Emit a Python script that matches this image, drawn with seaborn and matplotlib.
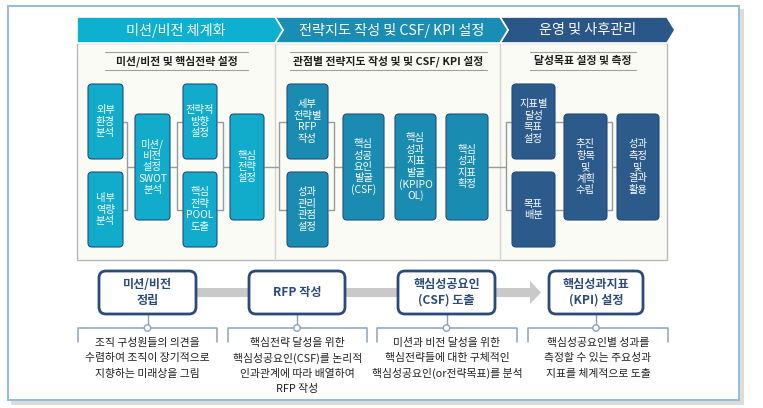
import matplotlib
matplotlib.use("Agg")
import matplotlib.pyplot as plt
import seaborn as sns
from matplotlib.patches import FancyBboxPatch, Polygon, Rectangle, Circle

sns.set_theme(style="white")
plt.rcParams['font.family'] = ['Noto Sans CJK KR', 'DejaVu Sans']

# 단계 / 내용
phases = ["미션/비전 체계화", "전략지도 작성 및 CSF/ KPI 설정", "운영 및 사후관리"]
sub_titles = ["미션/비전 및 핵심전략 설정",
              "관점별 전략지도 작성 및 및 CSF/ KPI 설정",
              "달성목표 설정 및 측정"]
phase_colors = ["#0db1cf", "#1a8db4", "#2a5788"]
box_colors = ["#11abcc", "#1b8cb1", "#2b5a8b"]

steps1 = ["외부\n환경\n분석", "내부\n역량\n분석", "미션/\n비전\n설정\nSWOT\n분석",
          "전략적\n방향\n설정", "핵심\n전략\nPOOL\n도출", "핵심\n전략\n설정"]
steps2 = ["세부\n전략별\nRFP\n작성", "성과\n관리\n관점\n설정", "핵심\n성공\n요인\n발굴\n(CSF)",
          "핵심\n성과\n지표\n발굴\n(KPIPO\nOL)", "핵심\n성과\n지표\n확정"]
steps3 = ["지표별\n달성\n목표\n설정", "목표\n배분", "추진\n항목\n및\n계획\n수립",
          "성과\n측정\n및\n결과\n활용"]

stages = ["미션/비전\n정립", "RFP 작성", "핵심성공요인\n(CSF) 도출", "핵심성과지표\n(KPI) 설정"]
stage_notes = [
    ["조직 구성원들의 의견을", "수렴하여 조직이 장기적으로", "지향하는 미래상을 그림"],
    ["핵심전략 달성을 위한", "핵심성공요인(CSF)를 논리적", "인과관계에 따라 배열하여", "RFP 작성"],
    ["미션과 비전 달성을 위한", "핵심전략들에 대한 구체적인", "핵심성공요인(or전략목표)를 분석"],
    ["핵심성공요인별 성과를", "측정할 수 있는 주요성과", "지표를 체계적으로 도출"],
]

# layout (pixels)
TOP, BOT, MID = (84, 159), (172, 247), (114, 220)
layout1 = [((88, 123), TOP), ((88, 123), BOT), ((135, 170), MID),
           ((183, 217), TOP), ((183, 217), BOT), ((230, 264), MID)]
layout2 = [((287, 328), TOP), ((287, 328), BOT), ((343, 384), MID),
           ((395, 436), MID), ((446, 488), MID)]
layout3 = [((512, 555), TOP), ((512, 555), BOT), ((564, 607), MID), ((617, 659), MID)]
stage_x = [(99, 196), (249, 345), (398, 495), (549, 643)]
note_x = [(78, 217), (228, 367), (377, 517), (528, 668)]

fig = plt.figure(figsize=(7.63, 4.08), dpi=100)
ax = fig.add_axes([0, 0, 1, 1])
ax.set_xlim(0, 763)
ax.set_ylim(408, 0)
ax.axis("off")


def lines_text(cx, cy, text, step, **kw):
    # place each line by hand, CJK multi-line spacing in mpl is too tight
    parts = text.split("\n")
    y0 = cy - step * (len(parts) - 1) / 2
    for i, p in enumerate(parts):
        ax.text(cx, y0 + i * step, p, ha="center", va="center", **kw)


# outer frame + shadow
ax.add_patch(Rectangle((11, 9), 733, 396, facecolor="#dcdcdc", edgecolor="none", zorder=0))
ax.add_patch(Rectangle((8, 6), 731, 394, facecolor="white", edgecolor="#93bddc", lw=1.4, zorder=1))

# panel
ax.add_patch(Rectangle((77, 43), 590, 217, facecolor="#fbfbf6", edgecolor="#b8b8b8", lw=1, zorder=2))
for xd in (275, 500):
    ax.plot([xd, xd], [43, 260], color="#d4d4d4", lw=1, zorder=2)

# header chevrons
hy0, hy1, hm = 17, 43, 30
heads = [
    [(77, hy0), (275, hy0), (283, hm), (275, hy1), (77, hy1)],
    [(275, hy0), (500, hy0), (508, hm), (500, hy1), (275, hy1), (283, hm)],
    [(500, hy0), (667, hy0), (675, hm), (667, hy1), (500, hy1), (508, hm)],
]
for pts, c in zip(heads[::-1], phase_colors[::-1]):
    ax.add_patch(Polygon(pts, closed=True, facecolor=c, edgecolor="white", lw=1.2, zorder=3))
for (x0, x1), t in zip([(77, 275), (283, 500), (508, 667)], phases):
    ax.text((x0 + x1) / 2, hm, t, color="white", fontsize=10.2, fontweight="medium",
            ha="center", va="center", zorder=4)

# subtitles
for (x0, x1), t in zip([(105, 248), (290, 487), (530, 636)], sub_titles):
    ax.plot([x0, x1], [52, 52], color="#a0a0a0", lw=0.8, zorder=3)
    ax.plot([x0, x1], [70, 70], color="#a0a0a0", lw=0.8, zorder=3)
    ax.text((x0 + x1) / 2, 61, t, color="#1e1e1e", fontsize=7.8, fontweight="bold",
            ha="center", va="center", zorder=4)

# connectors
line_c = "#9a9a9a"
def seg(xs, ys):
    ax.plot(xs, ys, color=line_c, lw=1, zorder=3, solid_capstyle="butt")

yt, yb, ym = sum(TOP) / 2, sum(BOT) / 2, sum(MID) / 2
def bracket(xl, xb, xr):
    seg([xl, xb, xb, xl], [yt, yt, yb, yb])
    seg([xb, xr], [ym, ym])
def rbracket(xl, xb, xr):
    seg([xl, xb], [ym, ym])
    seg([xr, xb, xb, xr], [yt, yt, yb, yb])

bracket(123, 127, 135)
rbracket(170, 177, 183)
bracket(217, 223, 230)
rbracket(264, 279, 287)
bracket(328, 334, 343)
seg([384, 395], [ym, ym])
seg([436, 446], [ym, ym])
rbracket(488, 506, 512)
seg([555, 564], [yt, yt])
seg([555, 564], [yb, yb])
bracket(607, 612, 617)

# step boxes
for labels, lay, c in zip([steps1, steps2, steps3], [layout1, layout2, layout3], box_colors):
    for lab, ((x0, x1), (y0, y1)) in zip(labels, lay):
        ax.add_patch(FancyBboxPatch((x0, y0), x1 - x0, y1 - y0,
                                    boxstyle="round,pad=0,rounding_size=4",
                                    facecolor=c, edgecolor="#1f4f7e", lw=0.8, zorder=4))
        lines_text((x0 + x1) / 2, (y0 + y1) / 2, lab, 11.5, color="white",
                   fontsize=7.4, fontweight="medium", zorder=5)

# bottom flow bar + arrow
ax.add_patch(Rectangle((120, 288), 410, 9, facecolor="#c9c9c9", edgecolor="none", zorder=2))
ax.add_patch(Polygon([(530, 281), (541, 292.5), (530, 304)], closed=True,
                     facecolor="#c9c9c9", edgecolor="none", zorder=2))

navy = "#2b4a7c"
note_c = "#8aa3bf"
for lab, (x0, x1), (nx0, nx1), notes in zip(stages, stage_x, note_x, stage_notes):
    cx = (x0 + x1) / 2
    ax.add_patch(FancyBboxPatch((x0, 271), x1 - x0, 43,
                                boxstyle="round,pad=0,rounding_size=7",
                                facecolor="white", edgecolor=navy, lw=2, zorder=4))
    lines_text(cx, 292.5, lab, 16, color=navy, fontsize=8.7, fontweight="bold", zorder=5)
    ax.plot([cx, cx], [314, 325], color=note_c, lw=1, zorder=3)
    ax.plot([nx0, nx0, nx1, nx1], [342, 328, 328, 342], color=note_c, lw=1.1, zorder=3)
    ax.add_patch(Circle((cx, 328), 3.2, facecolor="white", edgecolor=note_c, lw=1, zorder=5))
    for i, t in enumerate(notes):
        ax.text((nx0 + nx1) / 2, 343 + i * 15.3, t, color="#222222", fontsize=7.8,
                ha="center", va="center", zorder=5)

fig.savefig("out.png", dpi=100)
